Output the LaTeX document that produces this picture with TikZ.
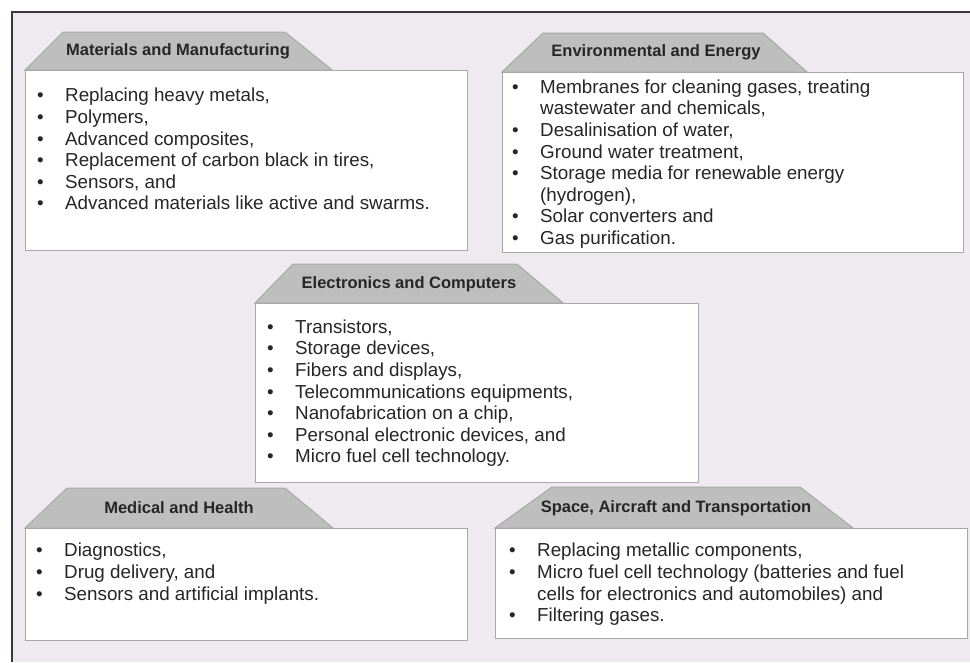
\documentclass[tikz,border=0pt]{standalone}
\usepackage{fontspec}
\setmainfont{Liberation Sans}
\definecolor{cbg}{HTML}{EEEAF0}
\definecolor{ctab}{HTML}{BEBEBE}
\definecolor{cedge}{HTML}{A8A8A8}
\definecolor{cframe}{HTML}{3A3A3A}
\definecolor{cink}{HTML}{262626}
\tikzset{panel/.style={draw=cedge,line width=1.4pt,fill=white,anchor=north west,inner sep=0pt},
  tabshape/.style={draw=cedge,line width=1pt,fill=ctab},
  tabtitle/.style={font=\fontsize{16.5}{18}\selectfont\bfseries,text=cink},
  items/.style={anchor=north west,align=left,inner sep=0pt,text=cink,font=\fontsize{18.8}{21.6}\selectfont}}
\newcommand{\blt}{\rule{0pt}{15pt}\makebox[28pt][l]{\textbullet}}
\newcommand{\cnt}{\rule{0pt}{15pt}\hspace*{28pt}}

\begin{document}
\begin{tikzpicture}[x=1pt,y=-1pt]
\useasboundingbox (0,0) rectangle (970,662);

% ============ frame ============
\fill[cbg] (12,12) rectangle (970,662);
\draw[cframe,line width=2.5pt] (12,662) -- (12,12) -- (970,12);

% ============ panels ============
\node[panel,minimum width=442pt,minimum height=180pt] (mat) at (25,70) {};
\node[panel,minimum width=461pt,minimum height=180pt] (env) at (502,72) {};
\node[panel,minimum width=443pt,minimum height=179pt] (ele) at (255,303) {};
\node[panel,minimum width=442pt,minimum height=112pt] (med) at (25,528) {};
\node[panel,minimum width=472pt,minimum height=110pt] (spa) at (495,528) {};

% ============ tabs ============
\draw[tabshape] (mat.north west) -- ++(38,-38) -- ++(222,0) -- ++(47,38) -- cycle;
\draw[tabshape] (env.north west) -- ++(41,-39) -- ++(220,0) -- ++(44,39) -- cycle;
\draw[tabshape] (ele.north west) -- ++(38,-39) -- ++(224,0) -- ++(46,39) -- cycle;
\draw[tabshape] (med.north west) -- ++(42,-40) -- ++(218,0) -- ++(48,40) -- cycle;
\draw[tabshape] (spa.north west) -- ++(57,-41) -- ++(248,0) -- ++(53,41) -- cycle;

\node[tabtitle] (mattitle) at (178,51) {Materials and Manufacturing};
\node[tabtitle] (envtitle) at (656,52) {Environmental and Energy};
\node[tabtitle] (eletitle) at (409,284) {Electronics and Computers};
\node[tabtitle] (medtitle) at (179,508) {Medical and Health};
\node[tabtitle] (spatitle) at (676,508) {Space, Aircraft and Transportation};

% ============ lists ============
\node[items] (matlist) at (37,86.7) {\blt Replacing heavy metals,\\
  \blt Polymers,\\
  \blt Advanced composites,\\
  \blt Replacement of carbon black in tires,\\
  \blt Sensors, and\\
  \blt Advanced materials like active and swarms.};
\node[items] (envlist) at (512,78) {\blt Membranes for cleaning gases, treating\\
  \cnt wastewater and chemicals,\\
  \blt Desalinisation of water,\\
  \blt Ground water treatment,\\
  \blt Storage media for renewable energy\\
  \cnt (hydrogen),\\
  \blt Solar converters and\\
  \blt Gas purification.};
\node[items] (elelist) at (267,318) {\blt Transistors,\\
  \blt Storage devices,\\
  \blt Fibers and displays,\\
  \blt Telecommunications equipments,\\
  \blt Nanofabrication on a chip,\\
  \blt Personal electronic devices, and\\
  \blt Micro fuel cell technology.};
\node[items] (medlist) at (36,541.7) {\blt Diagnostics,\\
  \blt Drug delivery, and\\
  \blt Sensors and artificial implants.};
\node[items] (spalist) at (509,541.7) {\blt Replacing metallic components,\\
  \blt Micro fuel cell technology (batteries and fuel\\
  \cnt cells for electronics and automobiles) and\\
  \blt Filtering gases.};

\end{tikzpicture}
\end{document}
